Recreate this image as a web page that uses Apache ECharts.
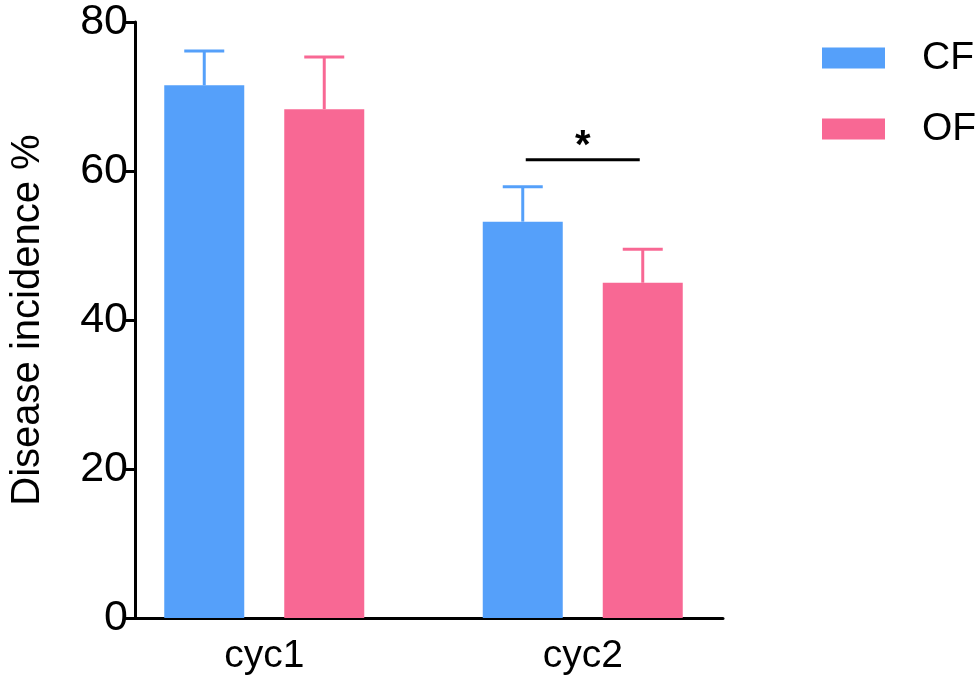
<!DOCTYPE html>
<html>
<head>
    <meta charset="utf-8">
    <title>chart</title>
    <style>
        html, body { margin: 0; padding: 0; background: #fff; }
        #main { width: 980px; height: 686px; }
    </style>
    <script src="https://cdn.jsdelivr.net/npm/echarts@6/dist/echarts.min.js"></script>
</head>
<body>
<div id="main"></div>
<script>
    // data
    const categories = ['cyc1', 'cyc2'];
    const cfMean = [71.5, 53.2];
    const cfErr = [4.6, 4.7];
    const ofMean = [68.3, 45.0];
    const ofErr = [7.0, 4.5];
    const yTicks = [0, 20, 40, 60, 80];
    // significance mark: category index, height
    const sigMarks = [[1, 61.5, '*']];

    const FONT = '"Liberation Sans", Arial, sans-serif';
    const BLUE = '#55a0fa';
    const PINK = '#f86894';

    // error bar data: [category, mean, err, group]
    let errData = [];
    categories.forEach(function (c, i) {
        errData.push([i, cfMean[i], cfErr[i], 0]);
        errData.push([i, ofMean[i], ofErr[i], 1]);
    });

    const chart = echarts.init(document.getElementById('main'));
    chart.setOption({
        animation: false,
        textStyle: { fontFamily: FONT },
        legend: {
            data: ['CF', 'OF'],
            orient: 'vertical',
            left: 817,
            top: 33,
            icon: 'rect',
            itemWidth: 63,
            itemHeight: 21,
            itemGap: 31,
            textStyle: { fontSize: 39, color: '#000', lineHeight: 40, padding: [0, 0, 0, 32], fontFamily: FONT }
        },
        grid: [
            { left: 125, top: 22, width: 598, height: 596 },   // axes frame
            { left: 105, top: 22, width: 637, height: 596 }    // bars
        ],
        xAxis: [{
            type: 'category', gridIndex: 0, data: categories,
            axisLine: { lineStyle: { color: '#000', width: 3 } },
            axisTick: { show: false },
            axisLabel: { show: false }
        }, {
            type: 'category', gridIndex: 1, data: categories,
            axisLine: { show: false },
            axisTick: { alignWithLabel: true, length: 8, lineStyle: { color: '#000', width: 3 } },
            axisLabel: { fontSize: 39, color: '#000', margin: 19, fontFamily: FONT }
        }],
        yAxis: [{
            type: 'value', gridIndex: 0, min: yTicks[0], max: yTicks[yTicks.length - 1], interval: 20,
            name: 'Disease incidence %',
            nameLocation: 'middle',
            nameGap: 87,
            nameTextStyle: { fontSize: 40, color: '#000', fontFamily: FONT },
            axisLine: { show: true, lineStyle: { color: '#000', width: 3 } },
            axisTick: { show: true, length: 10, lineStyle: { color: '#000', width: 3 } },
            axisLabel: { fontSize: 43, color: '#000', margin: 7, fontFamily: FONT },
            splitLine: { show: false }
        }, {
            type: 'value', gridIndex: 1, min: yTicks[0], max: yTicks[yTicks.length - 1], interval: 20,
            show: false
        }],
        series: [{
            name: 'CF', type: 'bar', xAxisIndex: 1, yAxisIndex: 1,
            barWidth: 80, barGap: '50%',
            itemStyle: { color: BLUE },
            data: cfMean
        }, {
            name: 'OF', type: 'bar', xAxisIndex: 1, yAxisIndex: 1,
            barWidth: 80, barGap: '50%',
            itemStyle: { color: PINK },
            data: ofMean
        }, {
            type: 'custom', xAxisIndex: 1, yAxisIndex: 1, z: 1,
            data: errData,
            renderItem: function (params, api) {
                const g = api.value(3);
                const base = api.coord([api.value(0), api.value(1)]);
                const top = api.coord([api.value(0), api.value(1) + api.value(2)]);
                const x = base[0] + (g === 0 ? -60 : 60);
                const style = { stroke: g === 0 ? BLUE : PINK, lineWidth: 3 };
                return {
                    type: 'group',
                    children: [
                        { type: 'line', shape: { x1: x, y1: base[1], x2: x, y2: top[1] }, style: style },
                        { type: 'line', shape: { x1: x - 20, y1: top[1], x2: x + 20, y2: top[1] }, style: style }
                    ]
                };
            }
        }, {
            type: 'custom', xAxisIndex: 1, yAxisIndex: 1,
            data: sigMarks,
            renderItem: function (params, api) {
                const p = api.coord([api.value(0), api.value(1)]);
                return {
                    type: 'group',
                    children: [
                        { type: 'line', shape: { x1: p[0] - 57, y1: p[1], x2: p[0] + 57, y2: p[1] },
                          style: { stroke: '#000', lineWidth: 3 } },
                        { type: 'text', x: p[0], y: p[1] + 7,
                          style: { text: sigMarks[params.dataIndex][2], fill: '#000', fontSize: 40,
                                   fontWeight: 'bold', fontFamily: FONT, align: 'center', verticalAlign: 'bottom' } }
                    ]
                };
            }
        }]
    });
</script>
</body>
</html>
